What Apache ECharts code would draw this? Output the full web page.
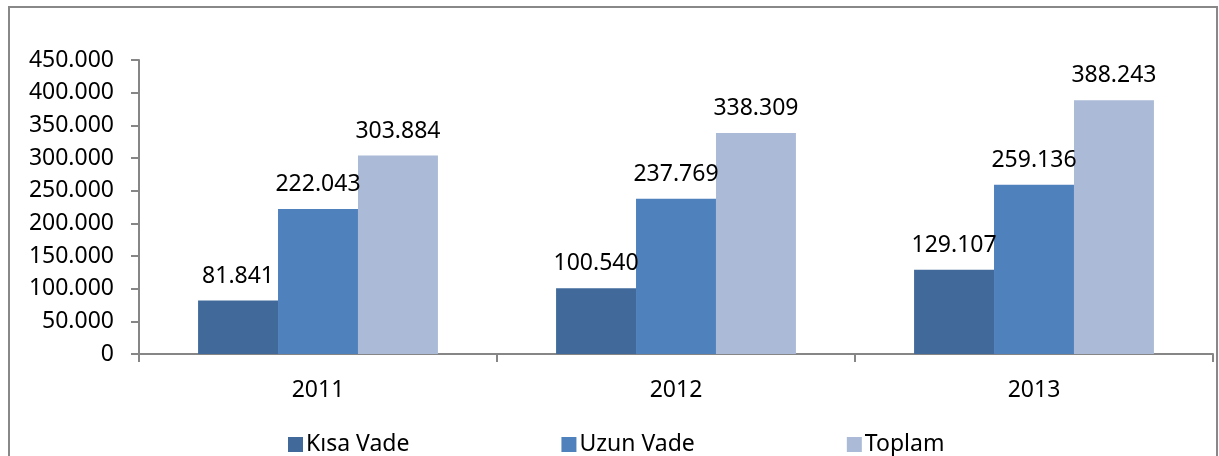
<!DOCTYPE html>
<html>
<head>
<meta charset="utf-8">
<script src="https://cdn.jsdelivr.net/npm/echarts@6/dist/echarts.min.js"></script>
<style>
  html, body { margin: 0; padding: 0; background: #fff; }
  #chart { width: 1219px; height: 456px; }
</style>
</head>
<body>
<div id="chart"></div>
<script>
const years = ['2011', '2012', '2013'];
const seriesNames = ['Kısa Vade', 'Uzun Vade', 'Toplam'];
const kisaVade = [81841, 100540, 129107];
const uzunVade = [222043, 237769, 259136];
const toplam = [303884, 338309, 388243];
const colors = ['#416A9B', '#4F81BD', '#AABAD7'];

const FONT = 'Noto Sans';
const FS = 23;

// 81841 -> "81.841" (nokta binlik ayırıcı)
function fmt(v) {
    return String(v).replace(/\B(?=(\d{3})+(?!\d))/g, '.');
}

const chart = echarts.init(document.getElementById('chart'));

function bar(name, data, color) {
    return {
        name: name,
        type: 'bar',
        data: data,
        barGap: '0%',
        barCategoryGap: '33%',
        itemStyle: { color: color },
        label: {
            show: true,
            position: 'top',
            distance: 13,
            color: '#000',
            fontFamily: FONT,
            fontSize: FS,
            formatter: p => fmt(p.value)
        }
    };
}

chart.setOption({
    animation: false,
    backgroundColor: '#fff',
    textStyle: { fontFamily: FONT },
    graphic: [{
        type: 'rect',
        shape: { x: 9, y: 7, width: 1208, height: 470 },
        style: { fill: 'none', stroke: '#888', lineWidth: 2 },
        silent: true
    }],
    grid: { left: 139, top: 60, right: 6, bottom: 102 },
    legend: {
        top: 428,
        left: 283,
        itemWidth: 15,
        itemHeight: 15,
        itemGap: 152,
        icon: 'rect',
        textStyle: { fontFamily: FONT, fontSize: FS, color: '#000', padding: [0, 0, 0, -2] },
        data: seriesNames
    },
    xAxis: {
        type: 'category',
        data: years,
        axisLine: { lineStyle: { color: '#868686', width: 2 } },
        axisTick: { show: true, length: 8, lineStyle: { color: '#868686', width: 2 } },
        axisLabel: { color: '#000', fontFamily: FONT, fontSize: FS, margin: 25 }
    },
    yAxis: {
        type: 'value',
        min: 0,
        max: 450000,
        interval: 50000,
        splitLine: { show: false },
        axisLine: { show: true, lineStyle: { color: '#868686', width: 2 } },
        axisTick: { show: true, length: 8, lineStyle: { color: '#868686', width: 2 } },
        axisLabel: {
            color: '#000',
            fontFamily: FONT,
            fontSize: FS,
            margin: 25,
            formatter: v => fmt(v)
        }
    },
    series: [
        bar(seriesNames[0], kisaVade, colors[0]),
        bar(seriesNames[1], uzunVade, colors[1]),
        bar(seriesNames[2], toplam, colors[2])
    ]
});
</script>
</body>
</html>
